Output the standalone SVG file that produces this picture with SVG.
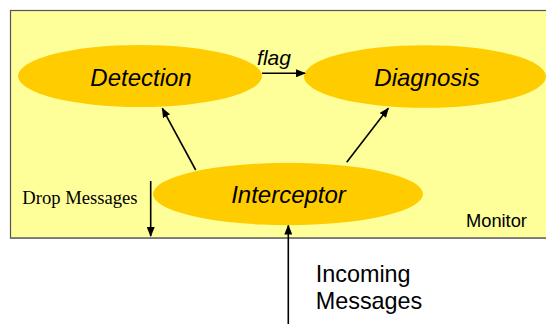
<svg xmlns="http://www.w3.org/2000/svg" width="546" height="324" viewBox="0 0 546 324">
  <style>
    .node { fill: #FFCC00; }
    .label { font-family: "Liberation Sans", Arial, sans-serif; font-style: italic; font-size: 24px; fill: #000; text-anchor: middle; }
    .plain { font-family: "Liberation Sans", Arial, sans-serif; fill: #000; }
    .edge { stroke: #000; stroke-width: 1.6; fill: none; marker-end: url(#head); }
  </style>
  <defs>
    <marker id="head" viewBox="0 0 10 8" refX="9" refY="4" markerWidth="10" markerHeight="8" markerUnits="userSpaceOnUse" orient="auto">
      <path d="M0,0 L10,4 L0,8 Z" fill="#000"/>
    </marker>
  </defs>

  <rect width="546" height="324" fill="#FFFFFF"/>

  <!-- Monitor container -->
  <g id="monitor">
    <rect x="10.5" y="10.5" width="540" height="227.5" fill="#FFFF99" stroke="#555555" stroke-width="1.2"/>
    <line x1="10" y1="238.3" x2="546" y2="238.3" stroke="#777777" stroke-width="1.6"/>
    <text class="plain" x="466" y="227" font-size="18.3">Monitor</text>
  </g>

  <g id="detection">
    <ellipse class="node" cx="140" cy="76" rx="122" ry="31"/>
    <text class="label" x="141" y="86">Detection</text>
  </g>

  <g id="diagnosis">
    <ellipse class="node" cx="425" cy="76.5" rx="121" ry="31.3"/>
    <text class="label" x="427" y="85.7">Diagnosis</text>
  </g>

  <g id="interceptor">
    <ellipse class="node" cx="288" cy="194" rx="135" ry="31.2"/>
    <text class="label" x="288.5" y="202.7">Interceptor</text>
  </g>

  <g id="connectors">
    <line class="edge" x1="262" y1="73.3" x2="305" y2="73.3"/>
    <text class="plain" x="274" y="65" font-size="21" font-style="italic" text-anchor="middle">flag</text>
    <line class="edge" x1="195.7" y1="170" x2="162.3" y2="108.3"/>
    <line class="edge" x1="346.7" y1="162.3" x2="388.3" y2="108.3"/>
    <line class="edge" x1="150.7" y1="181" x2="150.7" y2="236"/>
    <text x="22.3" y="204.3" font-family="'Liberation Serif', 'Times New Roman', serif" font-size="18.6" fill="#000">Drop Messages</text>
    <line class="edge" x1="288.3" y1="324" x2="288.3" y2="225.5" stroke-width="2"/>
    <text class="plain" font-size="23.4">
      <tspan x="315.7" y="281.7">Incoming</tspan>
      <tspan x="315.7" y="309.3">Messages</tspan>
    </text>
  </g>
</svg>
